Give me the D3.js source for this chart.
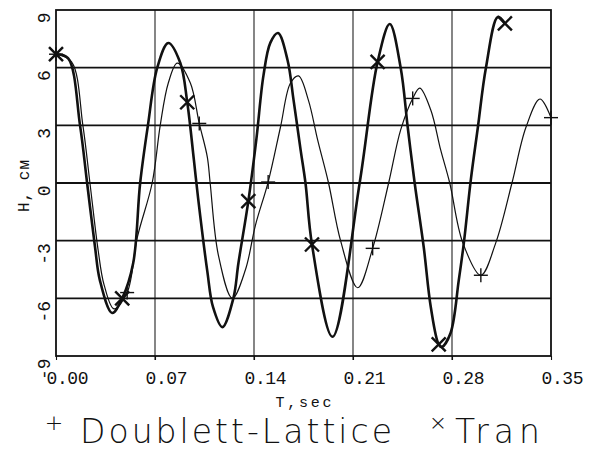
<!DOCTYPE html>
<html>
<head>
<meta charset="utf-8">
<script src="https://cdn.jsdelivr.net/npm/d3@7.9.0/dist/d3.min.js"></script>
<style>
  body { margin: 0; background: #fff; }
  svg { display: block; }
  text { font-family: "Liberation Mono", "DejaVu Sans Mono", monospace; fill: #111; }
  .legend text { font-family: "DejaVu Sans", "Liberation Sans", sans-serif; font-weight: 200; }
</style>
</head>
<body>
<svg id="chart" width="595" height="457"></svg>
<script>
// Tran (thick curve)
const tranT = [0, 0.0085, 0.017, 0.022, 0.0276, 0.031, 0.0397, 0.0468, 0.0546, 0.0595, 0.065, 0.0716, 0.0794,
  0.0879, 0.0928, 0.0975, 0.1005, 0.107, 0.111, 0.1176, 0.1254, 0.129, 0.136, 0.1417, 0.1467, 0.1516, 0.157,
  0.1637, 0.168, 0.173, 0.1764, 0.181, 0.1955, 0.2147, 0.2274, 0.236,
  0.2437, 0.2487, 0.2536, 0.26, 0.265, 0.2706, 0.2728, 0.279, 0.2848, 0.2884, 0.2933, 0.2983, 0.304, 0.3124, 0.3174];
const tranH = [6.7, 6.5, 3.0, 0, -3.33, -5.05, -6.76, -6.0, -4.16, 0, 3.0, 6.0, 7.28,
  6.24, 4.2, 1.2, -0.8, -4.6, -6.45, -7.5, -6.0, -4.16, -0.94, 2.3, 5.6, 7.3, 7.8,
  6.4, 4.3, 1.7, 0, -3.2, -8.0, 0, 6.3, 8.27,
  6.0, 2.9, 0, -3.33, -6.45, -8.4, -8.53, -7.8, -5.05, -3.1, 0.16, 2.9, 6.0, 8.64, 8.3];

// Doublett-Lattice (thin curve)
const dlT = [0, 0.011, 0.019, 0.024, 0.0298, 0.034, 0.041, 0.0503, 0.0574, 0.068, 0.0737, 0.0794, 0.0857,
  0.095, 0.1013, 0.107, 0.109, 0.1148, 0.1247, 0.134, 0.141, 0.150, 0.1587, 0.1658, 0.1715,
  0.1785, 0.185, 0.1927, 0.2012, 0.2133, 0.2239, 0.2352, 0.2437, 0.2522, 0.2572,
  0.265, 0.272, 0.2784, 0.2876, 0.3004, 0.311, 0.3224, 0.3323, 0.3422, 0.35];
const dlH = [6.7, 6.3, 3.0, 0, -3.5, -5.3, -6.55, -5.7, -2.86, 0, 3.0, 5.2, 6.24,
  5.2, 3.1, 1.35, 0, -3.75, -6.0, -4.5, -2.2, 0.05, 2.9, 5.2, 5.57,
  4.3, 2.24, 0, -3.0, -5.45, -3.4, 0, 2.76, 4.4, 4.94,
  3.8, 1.72, 0, -3.1, -4.8, -3.1, 0, 2.9, 4.37, 3.4];

// marker positions
const tranMarkT = [0, 0.0468, 0.0928, 0.136, 0.181, 0.2274, 0.2706, 0.3174];
const tranMarkH = [6.7, -6.0, 4.2, -0.94, -3.2, 6.3, -8.4, 8.3];
const dlMarkT = [0, 0.0503, 0.1013, 0.150, 0.2239, 0.2522, 0.3004, 0.35];
const dlMarkH = [6.7, -5.7, 3.1, 0.05, -3.4, 4.4, -4.8, 3.4];

const xTicks = [0, 0.07, 0.14, 0.21, 0.28, 0.35];
const yTicks = [-9, -6, -3, 0, 3, 6, 9];

const mLeft = 56, mRight = 551, mTop = 10, mBottom = 356;
const svg = d3.select('#chart');

const x = d3.scaleLinear().domain([0, 0.35]).range([mLeft, mRight]);
const y = d3.scaleLinear().domain([-9, 9]).range([mBottom, mTop]);

// vertical grid lines (thin)
svg.append('g')
  .selectAll('line')
  .data(xTicks.slice(1, -1))
  .join('line')
  .attr('x1', d => x(d)).attr('x2', d => x(d))
  .attr('y1', mTop).attr('y2', mBottom + 4)
  .attr('stroke', '#222').attr('stroke-width', 1.1);

// horizontal grid lines (heavier)
svg.append('g')
  .selectAll('line')
  .data(yTicks.slice(1, -1))
  .join('line')
  .attr('x1', mLeft).attr('x2', mRight)
  .attr('y1', d => y(d)).attr('y2', d => y(d))
  .attr('stroke', '#111').attr('stroke-width', 1.8);

// frame
svg.append('rect')
  .attr('x', mLeft).attr('y', mTop)
  .attr('width', mRight - mLeft).attr('height', mBottom - mTop)
  .attr('fill', 'none').attr('stroke', '#111').attr('stroke-width', 1.8);

// x axis labels
const xAxis = svg.append('g')
  .attr('transform', `translate(0,${mBottom})`)
  .call(d3.axisBottom(x).tickValues(xTicks).tickFormat(d3.format('.2f')).tickSize(4));
xAxis.select('.domain').remove();
xAxis.selectAll('line').attr('stroke', '#111').attr('stroke-width', 1.1);
xAxis.selectAll('text')
  .attr('text-anchor', 'start')
  .attr('x', -10)
  .attr('y', 28)
  .attr('dy', 0)
  .attr('font-size', 18)
  .attr('textLength', 42)
  .attr('fill', '#111')
  .style('font-family', '"Liberation Mono", "DejaVu Sans Mono", monospace');

// y axis labels, rotated
const yAxis = svg.append('g')
  .attr('transform', `translate(${mLeft},0)`)
  .call(d3.axisLeft(y).tickValues(yTicks).tickFormat(d => String(d)).tickSize(0));
yAxis.select('.domain').remove();
yAxis.selectAll('text')
  .attr('x', 0).attr('y', 0).attr('dy', 0)
  .attr('text-anchor', 'end')
  .attr('transform', 'translate(-6,2) rotate(-90)')
  .attr('font-size', 18)
  .attr('fill', '#111')
  .style('font-family', '"Liberation Mono", "DejaVu Sans Mono", monospace');

// axis titles
svg.append('text')
  .attr('x', (mLeft + mRight) / 2).attr('y', 407)
  .attr('text-anchor', 'middle')
  .attr('font-size', 15)
  .attr('textLength', 56)
  .text('T,sec');

svg.append('text')
  .attr('transform', `translate(29,${(mTop + mBottom) / 2 + 3}) rotate(-90)`)
  .attr('text-anchor', 'middle')
  .attr('font-size', 16)
  .attr('textLength', 52)
  .text('H, см');

// curves
const tranData = tranT.map((t, i) => ({ t, h: tranH[i] }));
const dlData = dlT.map((t, i) => ({ t, h: dlH[i] }));

const line = d3.line()
  .x(d => x(d.t))
  .y(d => y(d.h))
  .curve(d3.curveCatmullRom.alpha(0.5));

svg.append('path')
  .attr('d', line(dlData))
  .attr('fill', 'none')
  .attr('stroke', '#111')
  .attr('stroke-width', 1.2);

svg.append('path')
  .attr('d', line(tranData))
  .attr('fill', 'none')
  .attr('stroke', '#111')
  .attr('stroke-width', 2.6);

// markers: + for Doublett-Lattice, x for Tran
svg.append('g')
  .selectAll('g')
  .data(dlMarkT.map((t, i) => ({ t, h: dlMarkH[i] })))
  .join('g')
  .attr('transform', d => `translate(${x(d.t)},${y(d.h)})`)
  .each(function () {
    const g = d3.select(this);
    g.append('line').attr('x1', -7).attr('x2', 7).attr('stroke', '#111').attr('stroke-width', 1.4);
    g.append('line').attr('y1', -7).attr('y2', 7).attr('stroke', '#111').attr('stroke-width', 1.4);
  });

svg.append('g')
  .selectAll('g')
  .data(tranMarkT.map((t, i) => ({ t, h: tranMarkH[i] })))
  .join('g')
  .attr('transform', d => `translate(${x(d.t)},${y(d.h)})`)
  .each(function () {
    const g = d3.select(this);
    g.append('line').attr('x1', -7).attr('y1', -7).attr('x2', 7).attr('y2', 7).attr('stroke', '#111').attr('stroke-width', 2.4);
    g.append('line').attr('x1', -7).attr('y1', 7).attr('x2', 7).attr('y2', -7).attr('stroke', '#111').attr('stroke-width', 2.4);
  });

// legend
const legend = svg.append('g').attr('class', 'legend');
legend.append('text').attr('x', 54).attr('y', 430).attr('text-anchor', 'middle').attr('font-size', 22).text('+');
legend.append('text').attr('x', 80).attr('y', 443).attr('font-size', 33).attr('textLength', 312)
  .attr('lengthAdjust', 'spacing').text('Doublett-Lattice');
legend.append('text').attr('x', 438).attr('y', 430).attr('text-anchor', 'middle').attr('font-size', 22).text('×');
legend.append('text').attr('x', 455).attr('y', 443).attr('font-size', 33).attr('textLength', 85)
  .attr('lengthAdjust', 'spacing').text('Tran');
</script>
</body>
</html>
